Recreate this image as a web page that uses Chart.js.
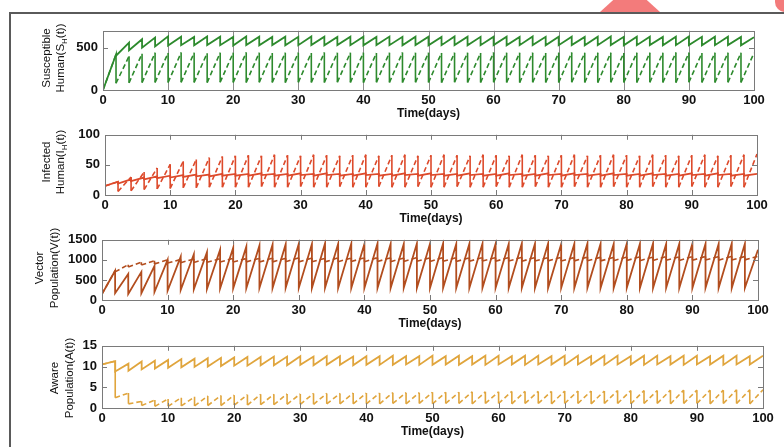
<!DOCTYPE html>
<html>
<head>
<meta charset="utf-8">
<script src="https://cdn.jsdelivr.net/npm/chart.js@4.4.1/dist/chart.umd.min.js"></script>
<style>
  body { margin: 0; background: #fff; }
  #wrap { position: relative; width: 784px; height: 447px; overflow: hidden; background: #fff; }
  #wrap canvas { position: absolute; left: 0; }
  .frame { position: absolute; left: 9px; top: 12px; width: 775px; height: 435px;
           border-top: 2px solid #5a5a5a; border-left: 2px solid #5a5a5a; box-sizing: border-box; }
  .pink1 { position: absolute; left: 600px; top: 0; width: 60px; height: 12px; background: #f37b7b;
           clip-path: polygon(22% 0, 78% 0, 100% 100%, 0 100%); }
  .pink2 { position: absolute; left: 775px; top: 0; width: 12px; height: 12px; background: #f37b7b;
           border-bottom-left-radius: 10px; }
</style>
</head>
<body>
<div id="wrap">
  <div class="pink1"></div>
  <div class="pink2"></div>
  <div class="frame"></div>
  <canvas id="c1" width="784" height="106" style="top:18px"></canvas>
  <canvas id="c2" width="784" height="107" style="top:122px"></canvas>
  <canvas id="c3" width="784" height="107" style="top:227px"></canvas>
  <canvas id="c4" width="784" height="109" style="top:333px"></canvas>
</div>
<script>
// impulse times (days) - each value below is read just before / just after the jump
const impulseDays = [0, 2, 4, 6, 8, 10, 12, 14, 16, 18, 20, 22, 24, 26, 28, 30, 32, 34, 36, 38, 40,
  42, 44, 46, 48, 50, 52, 54, 56, 58, 60, 62, 64, 66, 68, 70, 72, 74, 76, 78, 80,
  82, 84, 86, 88, 90, 92, 94, 96, 98, 100];
const xTicks = [0, 10, 20, 30, 40, 50, 60, 70, 80, 90, 100];

// Susceptible human
const sSolidPeak = [0, 420, 560, 600, 620, 635, 630, 628, 632, 630, 627,
  633, 630, 628, 631, 629, 632, 630, 627, 631, 630,
  628, 632, 629, 631, 630, 627, 632, 630, 629, 631,
  630, 628, 632, 629, 630, 631, 628, 630, 632, 629,
  630, 631, 628, 630, 632, 629, 631, 630, 628, 625];
const sSolidLow = [0, 405, 470, 500, 515, 525, 530, 528, 532, 530, 527,
  531, 529, 532, 528, 530, 531, 529, 532, 530, 528,
  531, 530, 528, 532, 529, 530, 531, 528, 530, 532,
  529, 530, 531, 528, 530, 532, 529, 530, 531, 528,
  530, 531, 529, 530, 532, 528, 530, 531, 529, 625];
const sDashPeak = [0, 420, 400, 430, 440, 438, 442, 440, 436, 441,
  439, 443, 440, 437, 441, 440, 438, 442, 439, 440,
  441, 437, 440, 442, 439, 440, 438, 441, 440, 437,
  442, 440, 439, 441, 438, 440, 442, 439, 441, 440,
  438, 441, 440, 439, 442, 440, 437, 441, 440, 439, 438];
const sDashLow = [0, 80, 85, 88, 90, 89, 91, 90, 88, 92,
  90, 89, 91, 90, 88, 91, 90, 89, 92, 90,
  88, 91, 90, 89, 91, 90, 88, 92, 90, 89,
  91, 90, 88, 91, 90, 89, 92, 90, 88, 91,
  90, 89, 91, 90, 88, 92, 90, 89, 91, 90, 438];

// Infected human
const iSolidPeak = [15, 22, 26, 29, 31, 32, 33, 34, 34, 35, 35,
  35, 36, 35, 35, 36, 35, 36, 35, 35, 36,
  35, 35, 36, 35, 36, 35, 35, 36, 35, 35,
  36, 35, 35, 36, 35, 36, 35, 35, 36, 35,
  35, 36, 35, 35, 36, 35, 36, 35, 35, 35];
const iSolidLow = [15, 19, 23, 26, 28, 29, 30, 31, 31, 32, 32,
  32, 33, 32, 32, 33, 32, 33, 32, 32, 33,
  32, 32, 33, 32, 33, 32, 32, 33, 32, 32,
  33, 32, 32, 33, 32, 33, 32, 32, 33, 32,
  32, 33, 32, 32, 33, 32, 33, 32, 32, 35];
const iDashPeak = [15, 22, 30, 38, 45, 51, 56, 59, 62, 64, 65,
  66, 65, 67, 66, 65, 67, 66, 65, 66, 67,
  65, 66, 67, 65, 66, 67, 66, 65, 67, 66,
  65, 67, 66, 65, 66, 67, 65, 66, 67, 66,
  65, 67, 66, 65, 66, 67, 65, 66, 67, 68];
const iDashLow = [15, 6, 7, 9, 10, 11, 12, 12, 13, 13, 13,
  13, 14, 13, 13, 14, 13, 13, 14, 13, 13,
  14, 13, 13, 14, 13, 13, 14, 13, 13, 14,
  13, 13, 14, 13, 13, 14, 13, 13, 14, 13,
  13, 14, 13, 13, 14, 13, 13, 14, 13, 68];

// Vector population
const vSolidPeak = [150, 730, 650, 700, 850, 1000, 1080, 1140, 1190, 1250, 1300,
  1330, 1360, 1380, 1390, 1400, 1395, 1410, 1400, 1405, 1395,
  1410, 1400, 1395, 1405, 1400, 1410, 1395, 1400, 1405, 1400,
  1395, 1410, 1400, 1405, 1395, 1400, 1410, 1400, 1395, 1405,
  1400, 1410, 1395, 1400, 1405, 1400, 1395, 1410, 1400, 1250];
const vSolidLow = [150, 170, 150, 170, 200, 230, 250, 265, 275, 285, 290,
  295, 300, 298, 302, 300, 297, 303, 300, 298, 301,
  300, 297, 302, 300, 298, 303, 300, 297, 301, 300,
  298, 302, 300, 297, 301, 300, 303, 298, 300, 302,
  300, 297, 301, 300, 298, 303, 300, 297, 301, 1250];
const vDashPeak = [150, 730, 880, 940, 980, 1000, 1010, 1020, 1030, 1030, 1040,
  1035, 1040, 1045, 1040, 1050, 1045, 1040, 1050, 1045, 1050,
  1055, 1050, 1045, 1055, 1050, 1060, 1055, 1050, 1060, 1055,
  1060, 1065, 1060, 1055, 1065, 1060, 1070, 1065, 1060, 1070,
  1075, 1070, 1080, 1075, 1080, 1085, 1080, 1090, 1085, 1090];
const vDashLow = [150, 700, 820, 870, 900, 920, 930, 935, 940, 945, 945,
  950, 945, 950, 955, 950, 955, 950, 955, 960, 955,
  960, 955, 960, 965, 960, 965, 960, 965, 970, 965,
  970, 965, 970, 975, 970, 975, 980, 975, 980, 985,
  980, 985, 990, 985, 990, 995, 990, 995, 1000, 1090];

// Aware population
const aSolidPeak = [10.5, 11.3, 10.7, 11.2, 11.4, 11.6, 11.8, 11.9, 12.0, 12.1, 12.2,
  12.3, 12.3, 12.4, 12.4, 12.5, 12.4, 12.5, 12.5, 12.4, 12.5,
  12.5, 12.6, 12.5, 12.5, 12.6, 12.5, 12.6, 12.5, 12.6, 12.6,
  12.5, 12.6, 12.6, 12.5, 12.6, 12.6, 12.5, 12.6, 12.6, 12.5,
  12.6, 12.6, 12.5, 12.6, 12.6, 12.5, 12.6, 12.6, 12.5, 12.6];
const aSolidLow = [10.5, 8.8, 9.0, 9.3, 9.5, 9.7, 9.8, 9.9, 10.0, 10.1, 10.2,
  10.2, 10.3, 10.3, 10.3, 10.4, 10.3, 10.4, 10.4, 10.3, 10.4,
  10.4, 10.4, 10.5, 10.4, 10.4, 10.5, 10.4, 10.5, 10.4, 10.5,
  10.5, 10.4, 10.5, 10.5, 10.4, 10.5, 10.5, 10.4, 10.5, 10.5,
  10.4, 10.5, 10.5, 10.4, 10.5, 10.5, 10.4, 10.5, 10.5, 12.6];
const aDashPeak = [10.5, 11.3, 3.6, 1.6, 1.9, 2.2, 2.5, 2.7, 2.9, 3.0, 3.1,
  3.2, 3.3, 3.3, 3.4, 3.4, 3.5, 3.5, 3.5, 3.6, 3.6,
  3.6, 3.7, 3.7, 3.7, 3.8, 3.8, 3.8, 3.9, 3.9, 3.9,
  4.0, 4.0, 4.0, 4.0, 4.1, 4.1, 4.1, 4.1, 4.2, 4.2,
  4.2, 4.2, 4.3, 4.3, 4.3, 4.3, 4.3, 4.4, 4.4, 4.4];
const aDashLow = [10.5, 2.5, 1.0, 0.6, 0.4, 0.4, 0.5, 0.5, 0.6, 0.6, 0.7,
  0.7, 0.8, 0.8, 0.9, 0.9, 0.9, 1.0, 1.0, 1.0, 1.0,
  1.0, 1.1, 1.0, 1.1, 1.0, 1.1, 1.1, 1.0, 1.1, 1.1,
  1.0, 1.1, 1.1, 1.0, 1.1, 1.1, 1.0, 1.1, 1.1, 1.0,
  1.1, 1.1, 1.0, 1.1, 1.1, 1.0, 1.1, 1.1, 1.0, 4.4];

const FONT = "'Liberation Sans', Arial, Helvetica, sans-serif";

// turn peak/low pairs into line points (vertical jump at every impulse day)
function teeth(peaks, lows) {
  const pts = [];
  impulseDays.forEach((d, k) => {
    pts.push({ x: d, y: peaks[k] });
    if (lows[k] !== peaks[k]) pts.push({ x: d, y: lows[k] });
  });
  return pts;
}

// matlab-ish box, inward ticks and the rotated y title (with subscript)
const matlabAxes = {
  id: "matlabAxes",
  beforeDatasetsDraw(chart, args, opts) {
    if (!opts.fullGrid) return;
    const { ctx, chartArea: a, scales: { x } } = chart;
    ctx.save();
    ctx.strokeStyle = "#8c8c8c";
    ctx.lineWidth = 1;
    x.ticks.forEach((t) => {
      if (t.value <= 0 || t.value >= 100) return;
      const px = Math.round(x.getPixelForValue(t.value)) + 0.5;
      ctx.beginPath();
      ctx.moveTo(px, a.top);
      ctx.lineTo(px, a.bottom);
      ctx.stroke();
    });
    ctx.restore();
  },
  afterDatasetsDraw(chart, args, opts) {
    const { ctx, chartArea: a, scales: { x, y } } = chart;
    ctx.save();
    ctx.strokeStyle = "#7a7a7a";
    ctx.lineWidth = 1;
    const len = 5;
    ctx.beginPath();
    if (!opts.fullGrid) {
      x.ticks.forEach((t) => {
        if (t.value <= 0 || t.value >= 100) return;
        const px = Math.round(x.getPixelForValue(t.value)) + 0.5;
        ctx.moveTo(px, a.top); ctx.lineTo(px, a.top + len);
        ctx.moveTo(px, a.bottom); ctx.lineTo(px, a.bottom - len);
      });
    }
    y.ticks.forEach((t) => {
      const py = Math.round(y.getPixelForValue(t.value)) + 0.5;
      ctx.moveTo(a.left, py); ctx.lineTo(a.left + len, py);
      ctx.moveTo(a.right, py); ctx.lineTo(a.right - len, py);
    });
    ctx.stroke();
    ctx.strokeRect(Math.round(a.left) + 0.5, Math.round(a.top) + 0.5,
      Math.round(a.width), Math.round(a.height));

    // y title lines
    ctx.fillStyle = "#111";
    ctx.textBaseline = "middle";
    opts.titles.forEach((line) => {
      const parts = line.parts;
      let total = 0;
      parts.forEach((p) => {
        ctx.font = (p.sub ? "8px " : "11.5px ") + FONT;
        p.w = ctx.measureText(p.t).width;
        total += p.w;
      });
      ctx.save();
      ctx.translate(line.x, line.y - opts.top);
      ctx.rotate(-Math.PI / 2);
      let cx = -total / 2;
      parts.forEach((p) => {
        ctx.font = (p.sub ? "8px " : "11.5px ") + FONT;
        ctx.textAlign = "left";
        ctx.fillText(p.t, cx, p.sub ? 4 : 0);
        cx += p.w;
      });
      ctx.restore();
    });
    ctx.restore();
  },
};

function makePanel(id, cfg) {
  const yW = 60;
  return new Chart(document.getElementById(id), {
    type: "line",
    data: {
      datasets: [
        {
          data: teeth(cfg.solid[0], cfg.solid[1]),
          borderColor: cfg.color,
          borderWidth: 1.8,
          pointRadius: 0,
          tension: 0,
        },
        {
          data: teeth(cfg.dash[0], cfg.dash[1]),
          borderColor: cfg.color,
          borderWidth: 1.6,
          pointRadius: 0,
          tension: 0,
          borderDash: [5, 3],
          segment: {
            borderDash: (c) => (c.p0.parsed.x === c.p1.parsed.x ? [] : [5, 3]),
          },
        },
      ],
    },
    options: {
      responsive: false,
      animation: false,
      events: [],
      layout: {
        padding: { top: 8, bottom: 0, left: cfg.left - yW, right: 784 - cfg.right },
      },
      plugins: {
        legend: { display: false },
        tooltip: { enabled: false },
        matlabAxes: { fullGrid: cfg.fullGrid, titles: cfg.titles, top: cfg.top },
      },
      scales: {
        x: {
          type: "linear",
          min: 0,
          max: 100,
          afterBuildTicks: (s) => { s.ticks = xTicks.map((v) => ({ value: v })); },
          afterFit: (s) => { s.height = 34; },
          grid: { display: false, drawTicks: false },
          border: { display: false },
          ticks: {
            autoSkip: false,
            maxRotation: 0,
            padding: 3,
            color: "#111",
            callback: (v) => String(v),
            font: { family: FONT, size: 13, weight: "bold" },
          },
          title: {
            display: true,
            text: "Time(days)",
            color: "#111",
            padding: { top: 0, bottom: 3 },
            font: { family: FONT, size: 12, weight: "bold" },
          },
        },
        y: {
          min: cfg.yMin,
          max: cfg.yMax,
          afterBuildTicks: (s) => { s.ticks = cfg.yTicks.map((v) => ({ value: v })); },
          afterFit: (s) => { s.width = yW; },
          grid: { display: false, drawTicks: false },
          border: { display: false },
          ticks: {
            padding: 5,
            color: "#111",
            callback: (v) => String(v),
            font: { family: FONT, size: 13, weight: "bold" },
          },
        },
      },
    },
    plugins: [matlabAxes],
  });
}

makePanel("c1", {
  top: 18, left: 103, right: 754, fullGrid: true,
  color: "#2d8a2d", yMin: 0, yMax: 700, yTicks: [0, 500],
  solid: [sSolidPeak, sSolidLow], dash: [sDashPeak, sDashLow],
  titles: [
    { x: 47, y: 58, parts: [{ t: "Susceptible" }] },
    { x: 61, y: 58, parts: [{ t: "Human(S" }, { t: "H", sub: true }, { t: "(t))" }] },
  ],
});

makePanel("c2", {
  top: 122, left: 105, right: 757, fullGrid: false,
  color: "#dd4a2b", yMin: 0, yMax: 100, yTicks: [0, 50, 100],
  solid: [iSolidPeak, iSolidLow], dash: [iDashPeak, iDashLow],
  titles: [
    { x: 47, y: 162, parts: [{ t: "Infected" }] },
    { x: 61, y: 162, parts: [{ t: "Human(I" }, { t: "H", sub: true }, { t: "(t))" }] },
  ],
});

makePanel("c3", {
  top: 227, left: 102, right: 758, fullGrid: false,
  color: "#b24d1e", yMin: 0, yMax: 1500, yTicks: [0, 500, 1000, 1500],
  solid: [vSolidPeak, vSolidLow], dash: [vDashPeak, vDashLow],
  titles: [
    { x: 40, y: 268, parts: [{ t: "Vector" }] },
    { x: 55, y: 268, parts: [{ t: "Population(V(t))" }] },
  ],
});

makePanel("c4", {
  top: 333, left: 102, right: 763, fullGrid: false,
  color: "#e0a53d", yMin: 0, yMax: 15, yTicks: [0, 5, 10, 15],
  solid: [aSolidPeak, aSolidLow], dash: [aDashPeak, aDashLow],
  titles: [
    { x: 55, y: 378, parts: [{ t: "Aware" }] },
    { x: 70, y: 378, parts: [{ t: "Population(A(t))" }] },
  ],
});
</script>
</body>
</html>
